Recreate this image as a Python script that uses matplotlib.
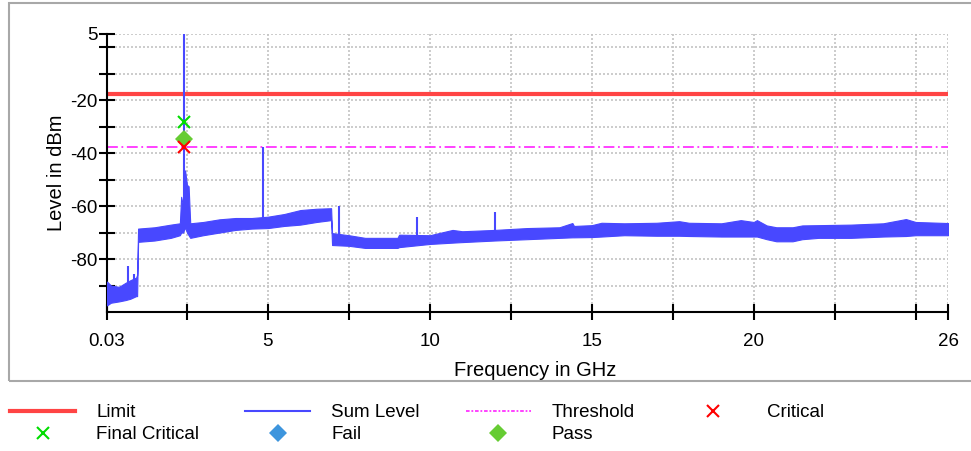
import numpy as np
import matplotlib
matplotlib.use('Agg')
import matplotlib.pyplot as plt
from matplotlib.lines import Line2D
from matplotlib.patches import Rectangle

plt.rcParams['font.family'] = ['Liberation Sans', 'DejaVu Sans']

# Sum level trace: upper / lower envelope of the measured band (dBm)
freq_ghz = [0.03, 0.15, 0.4, 0.6, 0.75, 0.93, 0.96, 0.99, 1.5, 2.0, 2.28, 2.32,
            2.38, 2.44, 2.5, 2.55, 2.6, 3.0, 3.5, 4.0, 4.5, 5.0, 5.5, 6.0, 6.5,
            6.95, 6.98, 7.5, 8.0, 9.0, 9.05, 10.0, 10.7, 11.0, 12.0, 13.0, 14.0,
            14.4, 14.45, 15.0, 15.3, 16.0, 17.0, 17.7, 18.0, 19.0, 19.6, 20.0,
            20.1, 20.4, 20.7, 21.2, 21.5, 22.0, 23.0, 24.0, 24.7, 25.0, 26.0]
level_hi = [-88.5, -90, -90.5, -89, -88, -87, -86, -68.5, -68, -67, -66.5, -56.5,
            -60, -46.5, -52, -52.5, -66.5, -66, -65, -64.5, -64.5, -64, -63, -61.5, -61,
            -60.8, -70.2, -71, -72, -72, -70.8, -71, -69, -69.5, -69, -68.3, -68,
            -66.4, -67.5, -67.2, -66.3, -66.5, -66.3, -65.7, -66.3, -66.5, -65.3, -66,
            -65.3, -67.3, -68, -68, -67.3, -67.2, -67, -66.5, -64.9, -66, -66.4]
level_lo = [-97.5, -96.5, -96, -95.5, -95, -94, -94, -73.5, -73, -72, -71, -70,
            -70, -68, -70, -71, -72, -71, -70, -69, -68.5, -68.3, -67.5, -67, -66,
            -65.3, -74.7, -75, -75.8, -75.8, -75.5, -74.3, -73.8, -73.6, -73, -72.5, -72,
            -71.8, -71.8, -71.7, -71.5, -71, -71.2, -71.2, -71.3, -71.5, -71.5, -71.5,
            -71.5, -72.5, -73.3, -73.3, -72.5, -72, -72, -71.5, -71.3, -71, -71]

# narrow carriers sticking out of the band
spike_ghz = [0.68, 0.85, 2.41, 4.84, 7.2, 9.6, 12.0]
spike_dbm = [-82.5, -85.5, 5, -37.8, -60, -64.2, -62.3]

limit_dbm = -17.5
threshold_dbm = -37.5

critical_ghz = [2.41]
critical_dbm = [-37.8]
final_ghz = [2.41]
final_dbm = [-28.4]
pass_ghz = [2.41]
pass_dbm = [-34.8]

x_ticks = [0.03, 2.5, 5, 7.5, 10, 12.5, 15, 17.5, 20, 22.5, 25, 26]
x_labels = ['0.03', '', '5', '', '10', '', '15', '', '20', '', '', '26']
y_ticks = [5, 0, -10, -20, -30, -40, -50, -60, -70, -80, -90]
y_labels = ['5', '', '', '-20', '', '-40', '', '-60', '', '-80', '']

BLUE = '#4848ff'
RED = '#ff4444'
MAGENTA = '#ff33ff'
FS = 13.5
FS_LABEL = 14.5

fig = plt.figure(figsize=(9.71, 4.51), dpi=100)
ax = fig.add_axes([107 / 971, 1 - 312 / 451, (948 - 107) / 971, (312 - 34) / 451])

ax.axhline(limit_dbm, color=RED, lw=3, zorder=2)
ax.axhline(threshold_dbm, color=MAGENTA, lw=1.3, ls=(0, (6, 2, 1, 2)), zorder=2)

ax.fill_between(freq_ghz, level_lo, level_hi, color=BLUE, edgecolor=BLUE, lw=0.8, zorder=3)
spike_base = np.interp(spike_ghz, freq_ghz, level_lo)
ax.vlines(spike_ghz, spike_base, spike_dbm, color=BLUE, lw=1.5, zorder=3)

ax.plot(final_ghz, final_dbm, 'x', color='#00dd00', ms=8.5, mew=1.5, zorder=5)
ax.plot(pass_ghz, pass_dbm, 'D', color='#66cc33', ms=8.7, mew=0, zorder=5)
ax.plot(critical_ghz, critical_dbm, 'x', color='#ff0000', ms=8.5, mew=1.5, zorder=5)

ax.set_xlim(0.03, 26)
ax.set_ylim(-100, 5)
ax.set_xticks(x_ticks)
ax.set_xticklabels(x_labels)
ax.set_yticks(y_ticks)
ax.set_yticklabels(y_labels)
ax.tick_params(direction='inout', length=12, width=1.5, labelsize=FS)
ax.tick_params(axis='x', pad=9)
ax.tick_params(axis='y', pad=1)
ax.grid(True, color='#c4c4c4', lw=1.2, ls=(0, (1.2, 1.2)))
ax.set_axisbelow(True)

for side in ('top', 'right'):
    ax.spines[side].set_visible(False)
for side in ('left', 'bottom'):
    ax.spines[side].set_linewidth(1.5)

ax.set_xlabel('Frequency in GHz', fontsize=FS_LABEL)
ax.xaxis.set_label_coords(0.509, -0.175)
ax.set_ylabel('Level in dBm', fontsize=FS_LABEL, labelpad=3)

# light grey frame around the chart panel
fig.patches.append(Rectangle((8.5 / 971, 1 - 381 / 451), 1.2, 378 / 451,
                             transform=fig.transFigure, fill=False,
                             edgecolor='#a8a8a8', lw=1.5))

h_limit = Line2D([], [], color=RED, lw=3)
h_sum = Line2D([], [], color=BLUE, lw=1.5)
h_thr = Line2D([], [], color=MAGENTA, lw=1.3, ls=(0, (2, 1, 1, 1)))
h_crit = Line2D([], [], color='#ff0000', marker='x', ls='none', ms=8.5, mew=1.5)
h_final = Line2D([], [], color='#00dd00', marker='x', ls='none', ms=8.5, mew=1.5)
h_fail = Line2D([], [], color='#3d95dd', marker='D', ls='none', ms=9.5, mew=0)
h_pass = Line2D([], [], color='#66cc33', marker='D', ls='none', ms=9.5, mew=0)

# column-major order so rows read Limit, Sum Level, Threshold, Critical / Final Critical, Fail, Pass
handles = [h_limit, h_final, h_sum, h_fail, h_thr, h_pass, h_crit]
labels = ['Limit', 'Final Critical', 'Sum Level', 'Fail', 'Threshold', 'Pass', 'Critical']
fig.legend(handles, labels, ncol=4, loc='upper left',
           bbox_to_anchor=(10 / 971, 1 - 404 / 451), frameon=False,
           fontsize=FS, handlelength=3.47, handletextpad=1.12,
           columnspacing=2.45, labelspacing=0.27, borderpad=0, borderaxespad=0)

fig.savefig('out.png', dpi=100)
